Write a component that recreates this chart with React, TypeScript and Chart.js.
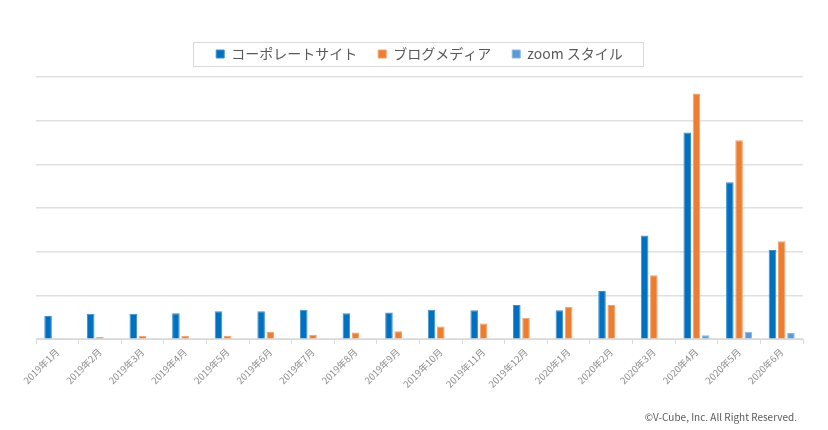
import React, { useEffect, useRef } from "react";
import { Chart, registerables } from "chart.js";

Chart.register(...registerables);

const categories = [
  "2019年1月", "2019年2月", "2019年3月", "2019年4月", "2019年5月", "2019年6月",
  "2019年7月", "2019年8月", "2019年9月", "2019年10月", "2019年11月", "2019年12月",
  "2020年1月", "2020年2月", "2020年3月", "2020年4月", "2020年5月", "2020年6月",
];
const corporateSite = [0.53, 0.58, 0.58, 0.59, 0.64, 0.64, 0.67, 0.59, 0.61, 0.67, 0.66, 0.78, 0.66, 1.1, 2.37, 4.73, 3.59, 2.04];
const blogMedia = [0.02, 0.05, 0.08, 0.08, 0.08, 0.17, 0.1, 0.15, 0.18, 0.29, 0.36, 0.49, 0.74, 0.78, 1.46, 5.62, 4.55, 2.24];
const zoomStyle = [0, 0, 0, 0, 0, 0, 0, 0, 0, 0, 0, 0, 0, 0, 0, 0.09, 0.17, 0.14];
const seriesNames = ["コーポレートサイト", "ブログメディア", "zoom スタイル"];
const copyright = "©V-Cube, Inc. All Right Reserved.";

const FONT = "'Noto Sans CJK JP', 'Noto Sans', sans-serif";

const legendBoxPlugin = {
  id: "legendBox",
  beforeInit(chart: any) {
    const lg = chart.legend;
    if (!lg) return;
    const origFit = lg.fit;
    lg.fit = function () {
      origFit.call(this);
      this.height += 6;
    };
  },
  afterDraw(chart: any) {
    const lg = chart.legend;
    const ctx = chart.ctx;
    if (lg && lg.legendHitBoxes && lg.legendHitBoxes.length) {
      const hb = lg.legendHitBoxes;
      const first = hb[0];
      const last = hb[hb.length - 1];
      const left = first.left - 23;
      const right = last.left + last.width + 20;
      const cy = first.top + first.height / 2;
      ctx.save();
      ctx.strokeStyle = "#d9d9d9";
      ctx.lineWidth = 1;
      ctx.strokeRect(Math.round(left) + 0.5, Math.round(cy - 12.5) + 0.5, Math.round(right - left), 24);
      ctx.restore();
    }
    ctx.save();
    ctx.fillStyle = "#595959";
    ctx.font = "10px " + FONT;
    ctx.textAlign = "right";
    ctx.textBaseline = "middle";
    ctx.fillText(copyright, chart.width - 31, chart.height - 13);
    ctx.restore();
  },
};

export default function App() {
  const ref = useRef<HTMLCanvasElement | null>(null);
  useEffect(() => {
    document.body.style.margin = "0";
    if (!ref.current) return;
    const chart = new Chart(ref.current, {
      type: "bar",
      data: {
        labels: categories,
        datasets: [
          { label: seriesNames[0], data: corporateSite, backgroundColor: "#0070C0", borderColor: "#3f8fd0", borderWidth: 1 },
          { label: seriesNames[1], data: blogMedia, backgroundColor: "#ED7D31", borderColor: "#f4a06a", borderWidth: 1 },
          { label: seriesNames[2], data: zoomStyle, backgroundColor: "#5B9BD5", borderColor: "#8bb9e3", borderWidth: 1 },
        ],
      },
      options: {
        animation: false,
        responsive: true,
        maintainAspectRatio: false,
        layout: { padding: { left: 36, right: 25, top: 26, bottom: 38 } },
        datasets: { bar: { categoryPercentage: 0.65, barPercentage: 0.82 } },
        plugins: {
          legend: {
            position: "top",
            labels: {
              boxWidth: 8,
              boxHeight: 8,
              padding: 21,
              color: "#595959",
              font: { family: FONT, size: 14 },
            },
          },
          tooltip: { enabled: false },
        },
        scales: {
          x: {
            grid: { display: true, drawOnChartArea: false, drawTicks: true, tickLength: 5, color: "#d9d9d9", offset: true },
            border: { display: true, color: "#d9d9d9" },
            ticks: {
              minRotation: 45,
              maxRotation: 45,
              color: "#8c8c8c",
              font: { family: FONT, size: 9.5 },
              padding: 2,
            },
          },
          y: {
            min: 0,
            max: 6,
            ticks: { display: false, stepSize: 1 },
            border: { display: false },
            grid: { color: "#e0e0e0", drawTicks: false, lineWidth: 1.5 },
          },
        },
      },
      plugins: [legendBoxPlugin],
    });
    return () => chart.destroy();
  }, []);
  return (
    <div style={{ width: 828, height: 430, position: "relative" }}>
      <canvas ref={ref} />
    </div>
  );
}
